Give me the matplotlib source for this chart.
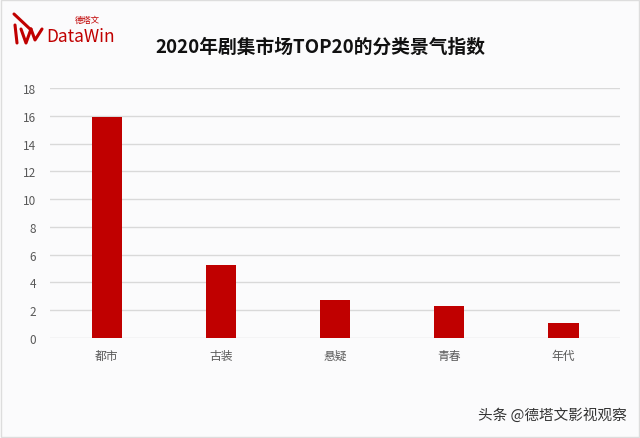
import numpy as np
import matplotlib.pyplot as plt
from matplotlib.lines import Line2D

categories = ['都市', '古装', '悬疑', '青春', '年代']
values = [15.9, 5.22, 2.74, 2.33, 1.08]
yticks = [0, 2, 4, 6, 8, 10, 12, 14, 16, 18]

plt.rcParams['font.family'] = ['Noto Sans CJK SC', 'DejaVu Sans']

W, H = 640, 439
fig = plt.figure(figsize=(6.4, 4.39), dpi=100, facecolor='#fbfbfc')
ax = fig.add_axes([0.078, 0.228, 0.891, 0.569])
ax.set_facecolor('#fbfbfc')

index = np.arange(len(categories))
ax.bar(index, values, 0.27, color='#c00000', zorder=3)
ax.set_xlim(-0.5, len(categories) - 0.5)
ax.set_ylim(0, 18)
ax.set_yticks(yticks)
ax.set_xticks(index)
ax.set_xticklabels(categories)
ax.grid(axis='y', color='#d9d9d9', linewidth=1, zorder=0)
for s in ax.spines.values():
	s.set_visible(False)
ax.tick_params(length=0, labelsize=8.5, labelcolor='#595959')
ax.tick_params(axis='x', pad=8)
ax.tick_params(axis='y', pad=10)

fig.text(0.5, 0.893, '2020年剧集市场TOP20的分类景气指数', ha='center', va='center',
	fontsize=13.5, fontweight='bold', color='#111111')

# logo (rough strokes of the icon)
def px_line(xs, ys, lw=2.2):
	fig.add_artist(Line2D([x / W for x in xs], [1 - y / H for y in ys],
		transform=fig.transFigure, color='#c00000', linewidth=lw, solid_capstyle='round'))
px_line([14, 30], [15, 30])
px_line([15, 17], [26, 44])
px_line([21, 26, 31], [30, 44, 30])
px_line([31, 35, 42], [30, 41, 30])
fig.text(46 / W, 1 - 37 / H, 'DataWin', ha='left', va='center', fontsize=12.5, color='#c00000')
fig.text(75 / W, 1 - 20 / H, '德塔文', ha='left', va='center', fontsize=6, color='#c00000')

# watermark
fig.text(0.98, 0.053, '头条 @德塔文影视观察', ha='right', va='center', fontsize=10.5, color='#333333')

# border
fig.patches.append(plt.Rectangle((0.002, 0.003), 0.996, 0.994, transform=fig.transFigure,
	fill=False, edgecolor='#dddddd', linewidth=1))

fig.savefig('out.png', dpi=100, facecolor=fig.get_facecolor())
